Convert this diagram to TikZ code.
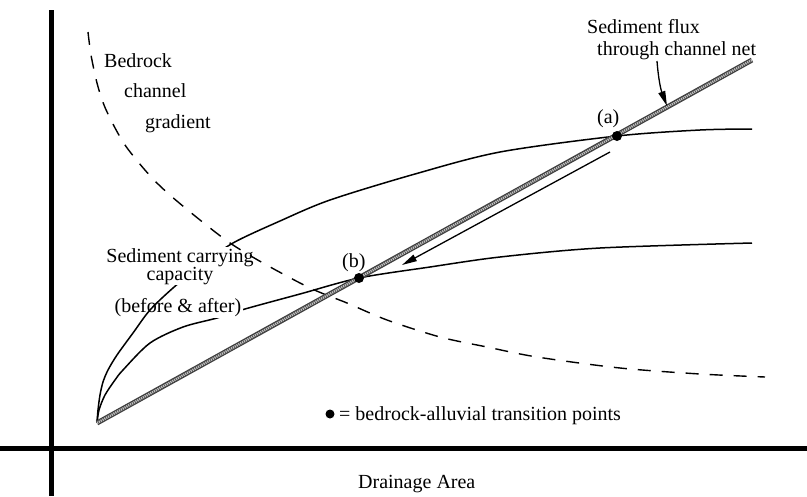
\documentclass[tikz,border=0pt]{standalone}
\usepackage{fontspec}
\setmainfont{Liberation Serif}
\usetikzlibrary{arrows.meta}
\begin{document}
\begin{tikzpicture}[x=1pt,y=-1pt,
  lbl/.style={font=\fontsize{20}{24}\selectfont, inner sep=0pt, anchor=base west},
  lblw/.style={lbl, fill=white, inner sep=1.5pt},
  axisline/.style={line width=5pt},
  capcurve/.style={line width=1.5pt},
  gradcurve/.style={line width=1.4pt, dash pattern=on 13pt off 11pt},
  fluxouter/.style={line width=5pt, black!75},
  fluxinner/.style={line width=2.4pt, gray!50, dash pattern=on 1.2pt off 0.9pt},
  tdot/.style={circle, fill=black, inner sep=0pt, minimum size=10pt},
  arr/.style={line width=1.3pt, -{Triangle[length=15pt,width=7pt]}},
  ]
\useasboundingbox (0,0) rectangle (807,496);

% axes
\coordinate (yaxtop) at (51.5,10);
\coordinate (yaxbot) at (51.5,496);
\coordinate (xaxl) at (0,448);
\coordinate (xaxr) at (807,448);
\draw[axisline] (yaxtop) -- (yaxbot);
\draw[axisline] (xaxl) -- (xaxr);

% key points
\coordinate (O) at (97,423);
\coordinate (Ftop) at (752,60);

% lower sediment capacity curve
\draw[capcurve] plot[smooth, tension=0.5] coordinates {(97,423) (99,410) (105,395) (115,380) (123,370) (150,343) (183,327) (217,318) (245,309) (300,294) (359,278) (430,267) (500,257) (600,248) (752,243)};
\node[lblw] (before) at (113,312) {(before \& after)};

% upper sediment capacity curve
\draw[capcurve] plot[smooth, tension=0.5] coordinates {(97,423) (98,410) (100,395) (103,382) (108,370) (117,355) (133,333) (150,310) (173,288) (200,266) (233,243) (280,221) (330,200) (415,174) (500,152) (617,136) (700,130) (752,129)};
\node[font=\fontsize{20}{18}\selectfont, align=center, anchor=north, fill=white, inner sep=1pt] (sedcar) at (180,247) {Sediment carrying\\capacity};

% bedrock channel gradient (dashed)
\draw[gradcurve] plot[smooth, tension=0.5] coordinates {(88,32) (91,55) (97,83) (104,105) (114,126) (125,145) (139,163) (154,180) (171,196) (200,220) (230,243) (263,263) (310,288) (347,303) (387,320) (440,337) (487,347) (537,357) (620,368) (700,374) (765,377)};

% sediment flux line
\draw[fluxouter] (O) -- (Ftop);
\draw[fluxinner] (O) -- (Ftop);

% transition points
\node[tdot] (A) at (617,136) {};
\node[tdot] (B) at (359,278) {};
\node[lbl] (alab) at (597,123) {(a)};
\node[lbl] (blab) at (342,267) {(b)};

% arrow along flux line
\coordinate (mvS) at (610,152);
\coordinate (mvE) at (402,265);
\draw[arr] (mvS) -- (mvE);

% labels
\node[lbl] (bed1) at (104,67) {Bedrock};
\node[lbl] (bed2) at (124,97) {channel};
\node[lbl] (bed3) at (145,128) {gradient};
\node[lbl] (flux1) at (587,33) {Sediment flux};
\node[lbl] (flux2) at (597,55) {through channel net};
\coordinate (fxS) at (657,61);
\coordinate (fxE) at (667,106);
\draw[arr] (fxS) to[bend right=8] (fxE);

% legend
\node[tdot, minimum size=9pt] (legdot) at (330,414) {};
\node[lbl] (legtxt) at (339,420) {= bedrock-alluvial transition points};

% x-axis title
\node[lbl] (xtitle) at (358,488) {Drainage Area};
\end{tikzpicture}
\end{document}
